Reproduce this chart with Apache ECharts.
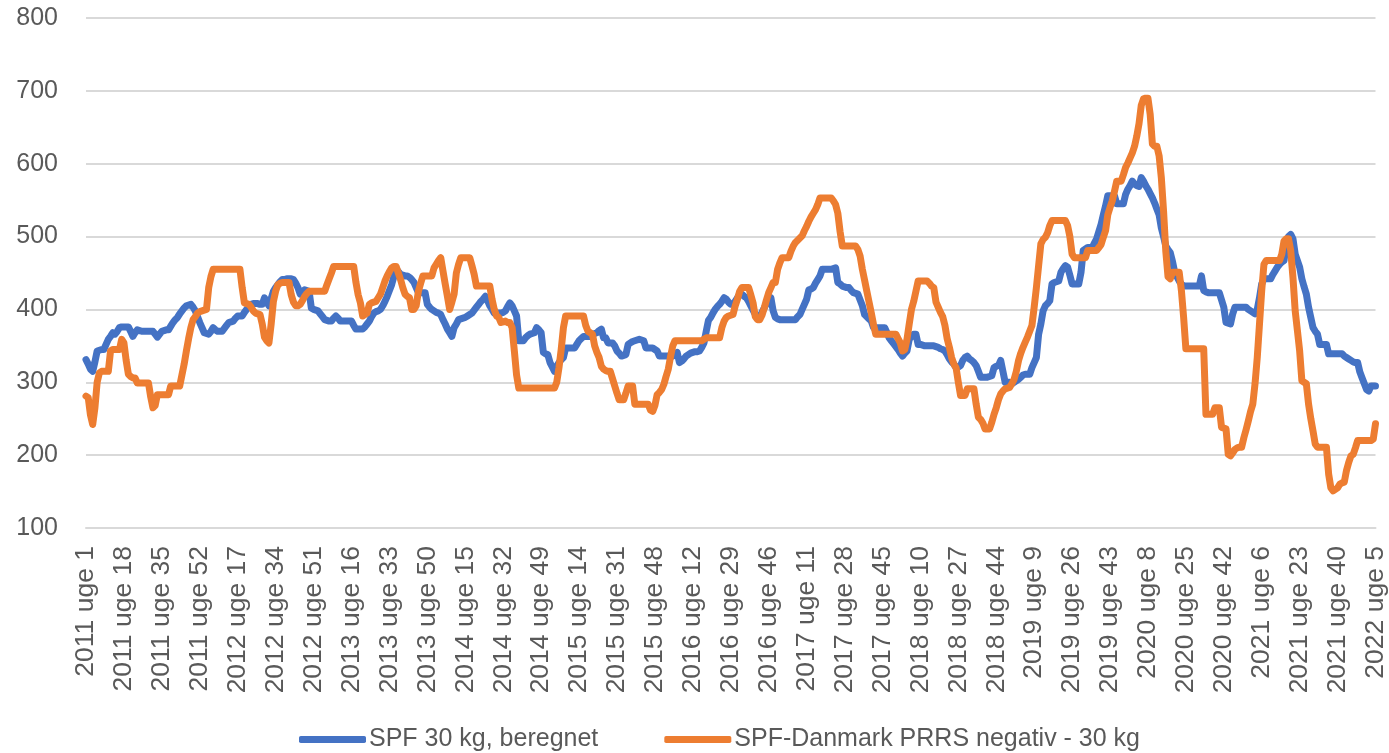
<!DOCTYPE html>
<html>
<head>
<meta charset="utf-8">
<title>SPF 30 kg</title>
<script src="https://cdn.jsdelivr.net/npm/echarts@6/dist/echarts.min.js"></script>
<style>
  html, body { margin: 0; padding: 0; background: #fff; }
  #main { width: 1389px; height: 753px; }
</style>
</head>
<body>
<div id="main"></div>
<script>
/* uger pr. aar, 2011 - 2022 (2022 kun til uge 5) */
var years = [2011, 2012, 2013, 2014, 2015, 2016, 2017, 2018, 2019, 2020, 2021, 2022];
var weeksInYear = [52, 52, 52, 52, 53, 52, 52, 52, 52, 53, 52, 5];

var seriesNames = ['SPF 30 kg, beregnet', 'SPF-Danmark PRRS negativ - 30 kg'];

// SPF 30 kg, beregnet (kr)
var spfBeregnet = [
  331,325,318,315,328,343,344,345,345,352,
  359,363,368,366,370,375,376,376,376,376,
  370,363,368,372,371,370,370,370,370,370,
  370,366,362,366,370,371,372,372,377,382,
  386,389,394,398,402,405,406,407,403,398,
  390,382,375,368,367,366,370,375,372,370,
  370,370,374,378,382,383,384,388,391,391,
  391,396,400,404,407,408,408,408,407,407,
  416,410,405,415,425,430,434,438,441,441,
  442,442,442,441,436,430,421,424,427,426,
  425,402,400,399,398,394,390,386,385,384,
  384,388,391,388,384,384,384,384,384,384,
  378,373,373,373,373,376,380,384,390,395,
  397,398,400,405,411,418,426,434,445,455,
  452,448,447,446,446,444,441,437,430,423,
  423,423,423,407,403,400,398,396,395,393,
  386,380,373,368,363,375,380,386,387,388,
  389,391,393,395,399,403,407,411,414,418,
  412,405,400,395,395,395,395,396,398,404,
  409,405,398,391,357,357,357,361,364,366,
  367,368,375,372,368,341,339,338,327,321,
  315,322,327,331,334,347,347,347,347,347,
  352,357,360,363,363,363,363,365,367,368,
  371,373,361,361,354,354,354,350,343,340,
  336,337,338,352,354,356,357,358,359,358,
  357,347,347,347,347,345,343,336,336,336,
  336,336,336,336,338,341,327,329,332,336,
  338,340,341,342,342,343,348,354,370,385,
  389,395,400,404,407,411,416,414,410,407,
  408,411,416,421,421,418,416,411,405,399,
  393,391,389,396,402,408,412,416,398,389,
  387,386,386,386,386,386,386,386,386,390,
  393,400,407,414,427,428,430,436,441,446,
  455,455,455,455,455,456,457,437,435,432,
  431,430,430,426,423,422,421,413,405,393,
  390,387,384,375,375,375,375,375,375,368,
  361,357,353,349,345,340,336,340,343,359,
  363,366,366,352,352,351,350,350,350,350,
  350,349,348,346,345,343,338,332,328,325,
  320,321,323,330,334,336,332,330,327,323,
  315,307,307,307,307,308,309,320,322,323,
  330,315,300,300,300,298,300,302,304,307,
  310,311,311,311,320,327,334,366,380,398,
  405,408,412,435,437,438,439,451,456,460,
  458,447,435,435,435,435,451,481,483,485,
  485,485,491,497,507,517,530,542,556,556,
  556,556,545,545,545,545,558,565,570,576,
  572,570,569,581,576,570,565,559,553,546,
  538,530,512,500,487,482,478,466,451,445,
  439,435,432,432,432,432,432,432,432,432,
  446,426,424,423,423,423,423,423,423,413,
  403,382,381,380,394,403,403,403,403,403,
  403,400,398,396,394,400,416,435,442,442,
  442,442,448,453,458,462,465,467,490,500,
  503,497,476,467,458,442,431,421,403,389,
  375,370,366,352,352,352,352,339,339,339,
  339,339,339,339,336,334,332,330,328,327,
  327,314,306,298,290,288,295,295,295
];

// SPF-Danmark PRRS negativ - 30 kg (kr)
var spfDanmark = [
  281,279,255,242,265,300,313,315,315,315,
  315,343,345,345,345,345,359,354,330,311,
  308,306,306,299,299,299,299,299,299,280,
  265,268,283,283,283,283,283,283,295,295,
  295,295,295,310,325,343,360,375,386,390,
  395,397,398,399,400,430,445,455,455,455,
  455,455,455,455,455,455,455,455,455,455,
  430,409,408,407,403,398,395,394,393,380,
  362,357,354,380,411,425,434,436,437,437,
  437,437,420,410,405,405,407,412,418,422,
  425,425,425,425,425,425,425,425,434,442,
  450,459,459,459,459,459,459,459,459,459,
  459,437,420,409,391,393,395,407,409,410,
  411,416,421,430,439,446,452,457,459,459,
  450,441,430,421,418,416,400,400,405,425,
  436,446,446,446,446,446,457,462,467,471,
  453,435,418,400,410,421,450,462,471,471,
  471,471,471,460,448,432,432,432,432,432,
  432,432,414,400,391,389,382,383,384,382,
  382,375,343,310,292,292,292,292,292,292,
  292,292,292,292,292,292,292,292,292,292,
  292,300,320,345,375,391,391,391,391,391,
  391,391,391,391,378,370,368,366,350,341,
  334,322,318,316,315,315,305,295,285,276,
  276,276,285,295,295,295,270,270,270,270,
  270,270,270,262,260,268,283,286,290,297,
  308,318,335,350,357,357,357,357,357,357,
  357,357,357,357,357,357,357,359,361,361,
  361,361,361,361,361,375,384,389,391,392,
  393,405,414,425,430,430,430,430,420,409,
  390,386,386,392,402,413,423,430,437,437,
  455,464,471,471,471,471,480,487,492,495,
  498,501,508,514,521,527,532,537,544,553,
  553,553,553,553,553,549,544,532,507,487,
  487,487,487,487,487,487,482,473,455,440,
  425,410,395,379,366,366,366,366,366,366,
  366,366,366,366,360,354,343,345,359,380,
  400,411,425,439,439,439,439,439,436,432,
  430,410,403,396,390,378,360,348,334,325,
  320,300,282,282,282,291,291,291,291,270,
  252,249,244,236,236,236,245,256,265,276,
  284,288,291,292,293,298,304,315,330,340,
  348,355,362,370,378,403,430,460,490,496,
  499,505,515,522,522,522,522,522,522,522,
  515,500,476,471,471,471,471,471,471,481,
  481,481,481,481,485,489,499,508,530,540,
  549,562,576,576,576,585,595,601,608,615,
  624,638,655,680,689,690,690,668,627,624,
  624,611,581,535,480,445,442,451,451,451,
  451,426,389,346,346,346,346,346,346,346,
  346,346,256,256,256,256,265,265,265,238,
  237,236,201,199,203,208,210,211,211,224,
  235,247,260,270,298,334,380,426,462,467,
  467,467,467,467,467,467,476,494,497,497,
  481,444,398,371,343,302,300,298,270,250,
  233,215,211,211,211,211,211,174,155,151,
  153,155,160,162,163,179,190,199,201,210,
  220,220,220,220,220,220,220,222,243
];

// kategorier: "2011 uge 1" ... "2022 uge 5"
var weekLabels = [];
for (var y = 0; y < years.length; y++) {
  for (var w = 1; w <= weeksInYear[y]; w++) {
    weekLabels.push(years[y] + ' uge ' + w);
  }
}

var textColor = '#595959';
var fontFam = '"Liberation Sans", Arial, sans-serif';

var myChart = echarts.init(document.getElementById('main'));
var option = {
  animation: false,
  backgroundColor: '#ffffff',
  color: ['#4472C4', '#ED7D31'],
  grid: { left: 86, right: 6, top: 18, bottom: 225 },
  legend: {
    left: 294,
    top: 722,
    itemWidth: 67,
    itemHeight: 7,
    itemGap: 66,
    icon: 'roundRect',
    textStyle: { color: textColor, fontSize: 25, fontFamily: fontFam, padding: [0, 0, 0, -2] },
    data: seriesNames
  },
  xAxis: {
    type: 'category',
    boundaryGap: false,
    data: weekLabels,
    axisLine: { show: true, lineStyle: { color: '#d9d9d9', width: 2 } },
    axisTick: { show: false },
    axisLabel: {
      interval: 16,
      rotate: 90,
      margin: 18,
      color: textColor,
      fontSize: 26.5,
      fontFamily: fontFam
    }
  },
  yAxis: {
    type: 'value',
    min: 100,
    max: 800,
    interval: 100,
    axisLine: { show: false },
    axisTick: { show: false },
    splitLine: { lineStyle: { color: '#d9d9d9', width: 2 } },
    axisLabel: { margin: 28, color: textColor, fontSize: 25, fontFamily: fontFam }
  },
  series: [
    {
      name: seriesNames[0],
      type: 'line',
      data: spfBeregnet,
      showSymbol: false,
      symbol: 'none',
      lineStyle: { width: 7, cap: 'round', join: 'round' }
    },
    {
      name: seriesNames[1],
      type: 'line',
      data: spfDanmark,
      showSymbol: false,
      symbol: 'none',
      lineStyle: { width: 7, cap: 'round', join: 'round' }
    }
  ]
};
myChart.setOption(option);
</script>
</body>
</html>
